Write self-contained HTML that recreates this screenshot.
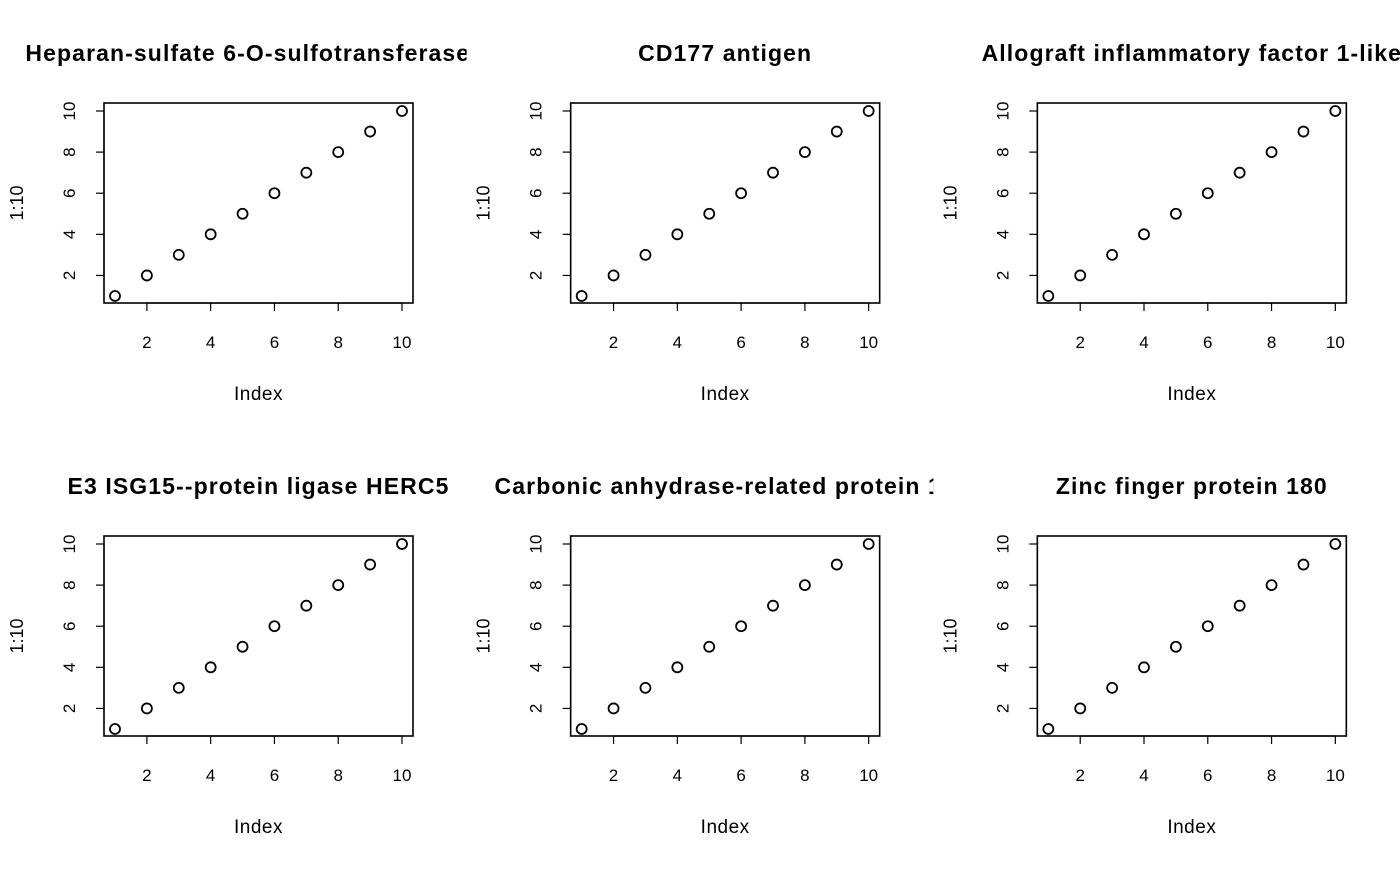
<!DOCTYPE html>
<html><head><meta charset="utf-8"><style>
html,body{margin:0;padding:0;background:#fff;}
svg text{font-family:"Liberation Sans",Arial,sans-serif;fill:#000;}
</style></head><body>
<svg id="fig" width="1400" height="866" xmlns="http://www.w3.org/2000/svg"></svg>
<script>
const titles = ["Heparan-sulfate 6-O-sulfotransferase 3","CD177 antigen","Allograft inflammatory factor 1-like","E3 ISG15--protein ligase HERC5","Carbonic anhydrase-related protein 10","Zinc finger protein 180"];
const xValues = [1,2,3,4,5,6,7,8,9,10];
const yValues = [1,2,3,4,5,6,7,8,9,10];
const xTicks = [2,4,6,8,10];
const yTicks = [2,4,6,8,10];
const NS="http://www.w3.org/2000/svg";
const fig=document.getElementById('fig');
function mk(tag,attrs,parent){const e=document.createElementNS(NS,tag);for(const k in attrs)e.setAttribute(k,attrs[k]);parent.appendChild(e);return e;}
const pw=1400/3, ph=433;
titles.forEach((t,i)=>{
  const col=i%3,row=Math.floor(i/3);
  const g=mk('svg',{x:col*pw,y:row*ph,width:pw,height:ph,overflow:'hidden'},fig);
  
  
  const L=104,R=413,T=103,B=303;
  const sx=v=>115+(v-1)*(402-115)/9;
  const sy=v=>296-(v-1)*(296-111)/9;
  const box=mk('rect',{x:L,y:T,width:R-L,height:B-T,fill:'none',stroke:'#000','stroke-width':1.6},g);
  
  
  const tt=mk('text',{x:(L+R)/2,y:61,'text-anchor':'middle','font-size':'23','font-weight':'bold','letter-spacing':'1.1'},g);
  tt.textContent=t;
  
  
  mk('line',{x1:sx(xTicks[0]),x2:sx(xTicks[xTicks.length-1]),y1:B,y2:B,stroke:'#000','stroke-width':1.2},g);
  xTicks.forEach(v=>{
    mk('line',{x1:sx(v),x2:sx(v),y1:B,y2:B+8,stroke:'#000','stroke-width':1.2},g);
    const tl=mk('text',{x:sx(v),y:348,'text-anchor':'middle','font-size':'17'},g);
    tl.textContent=v;
    
    
  });
  mk('line',{x1:L,x2:L,y1:sy(yTicks[0]),y2:sy(yTicks[yTicks.length-1]),stroke:'#000','stroke-width':1.2},g);
  yTicks.forEach(v=>{
    mk('line',{x1:L-8,x2:L,y1:sy(v),y2:sy(v),stroke:'#000','stroke-width':1.2},g);
    const tl=mk('text',{x:75,y:sy(v),'text-anchor':'middle','font-size':'17',transform:`rotate(-90 75 ${sy(v)})`},g);
    tl.textContent=v;
    
    
  });
  const xl=mk('text',{x:(L+R)/2,y:400,'text-anchor':'middle','font-size':'19','letter-spacing':'0.5'},g);
  xl.textContent='Index';
  
  
  const yl=mk('text',{x:23,y:203,'text-anchor':'middle','font-size':'18',transform:'rotate(-90 23 203)'},g);
  yl.textContent='1:10';
  
  
  xValues.forEach((xv,j)=>{
    const c=mk('circle',{cx:sx(xv),cy:sy(yValues[j]),r:5,fill:'none',stroke:'#000','stroke-width':1.8},g);
    
    
  });
});
</script>
</body></html>
